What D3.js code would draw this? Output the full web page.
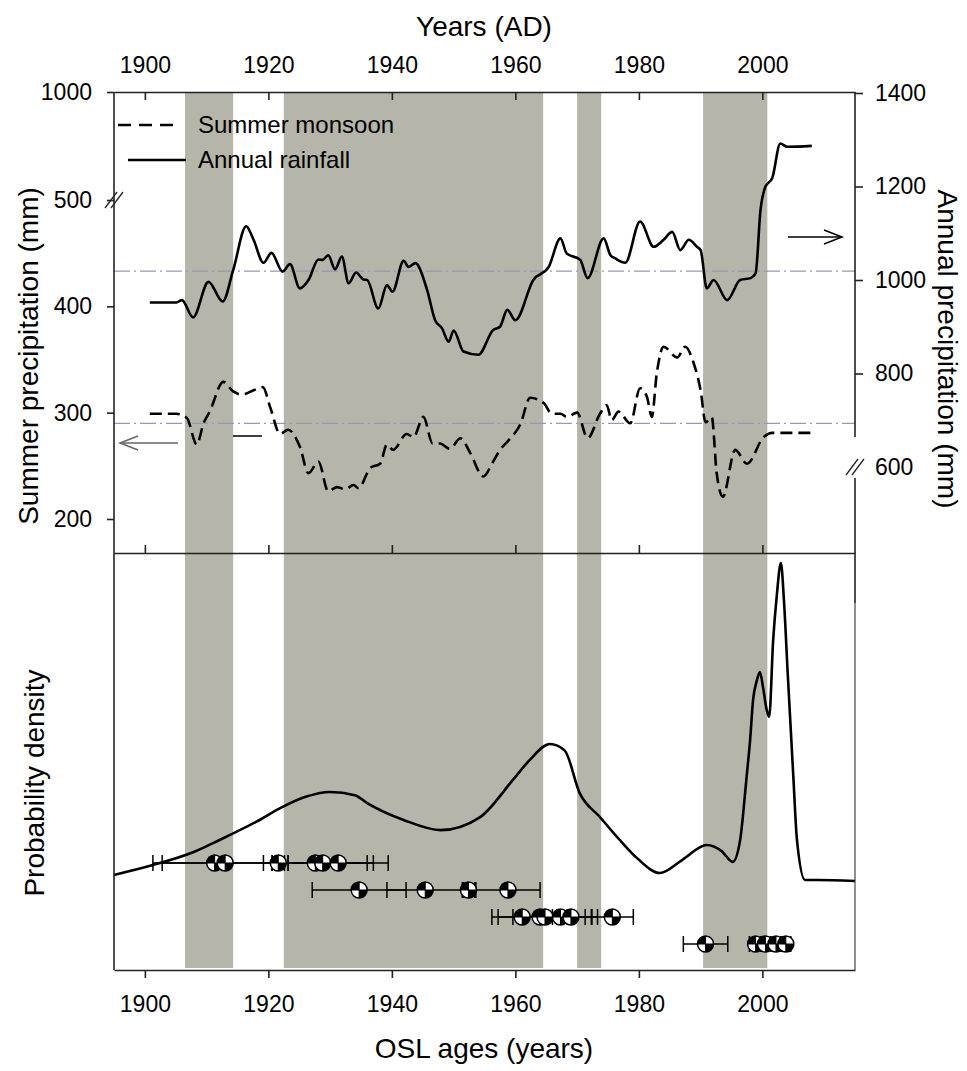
<!DOCTYPE html>
<html>
<head>
<meta charset="utf-8">
<script src="https://cdn.jsdelivr.net/npm/d3@7"></script>
<style>
  body { margin: 0; background: #fff; }
  text { font-family: "Liberation Sans", Arial, sans-serif; fill: #000; }
  .axis path, .axis line { stroke: #222; stroke-width: 1.6; }
  .axis text { font-size: 23px; }
</style>
</head>
<body>
<svg id="chart"></svg>
<script>
// ---- data ----
var xTicks = [1900, 1920, 1940, 1960, 1980, 2000];
var summerTicks = [200, 300, 400, 500, 1000];
var annualTicks = [600, 800, 1000, 1200, 1400];

var bandStarts = [1906.5, 1922.5, 1970.0, 1990.4];
var bandEnds = [1914.3, 1964.5, 1973.9, 2000.8];

var annualYears = [1900.8, 1905.1, 1906, 1907.8, 1910.3, 1912.6, 1914.3, 1916.4, 1917.6, 1919.2, 1920.5, 1922.3, 1923.5, 1925.1, 1926.5, 1928.1, 1928.8, 1929.7, 1930.8, 1931.9, 1933.0, 1934.2, 1935.4, 1936.0, 1937.8, 1939.2, 1940.1, 1941.9, 1942.7, 1943.8, 1945.7, 1947.0, 1948.1, 1949.2, 1950.0, 1951.6, 1954.0, 1956.4, 1957.5, 1958.7, 1960.0, 1962.9, 1965.4, 1967.3, 1968.3, 1970.5, 1971.7, 1974.3, 1975.4, 1976.2, 1977.8, 1980.2, 1982.4, 1984.0, 1985.4, 1986.7, 1988.1, 1989.4, 1990.0, 1991.0, 1992.1, 1994.3, 1996.4, 1998.1, 1998.9, 1999.7, 2000.5, 2001.6, 2002.9, 2004.0, 2008.0];
var annualRain = [952, 952, 957, 920, 996, 954, 1021, 1115, 1086, 1037, 1058, 1018, 1034, 982, 1000, 1044, 1043, 1053, 1023, 1050, 993, 1016, 1001, 1000, 939, 989, 975, 1041, 1028, 1036, 979, 914, 897, 868, 892, 847, 840, 893, 900, 936, 914, 1000, 1028, 1089, 1057, 1043, 1004, 1089, 1053, 1046, 1037, 1125, 1071, 1086, 1103, 1064, 1086, 1071, 1064, 982, 1000, 957, 1000, 1004, 1014, 1150, 1200, 1218, 1292, 1285, 1287];

var summerYears = [1900.8, 1905.1, 1906.8, 1908.4, 1909.5, 1910.5, 1912.7, 1914.3, 1915.7, 1917.6, 1919.1, 1920.3, 1921.9, 1923.2, 1925.1, 1926.5, 1928.1, 1929.7, 1931.1, 1932.4, 1933.8, 1934.6, 1936.5, 1938.1, 1939.2, 1940.2, 1942.4, 1943.5, 1945.1, 1946.6, 1947.8, 1949.4, 1951.1, 1952.7, 1954.8, 1956.4, 1957.5, 1958.9, 1960.8, 1962.4, 1964.6, 1965.9, 1967.3, 1968.3, 1970.0, 1971.7, 1973.7, 1974.8, 1975.6, 1976.7, 1978.6, 1980.2, 1981.3, 1982.1, 1982.9, 1984.0, 1986.2, 1987.5, 1988.9, 1990.0, 1990.8, 1991.8, 1992.6, 1993.6, 1995.6, 1997.5, 2000.2, 2001.6, 2008.0];
var summerRain = [299, 299, 295, 270, 290, 301, 329, 320, 317, 321, 324, 305, 280, 284, 268, 243, 254, 226, 230, 228, 232, 229, 248, 252, 270, 265, 280, 277, 296, 271, 271, 266, 276, 262, 240, 254, 265, 274, 289, 314, 309, 299, 299, 296, 300, 276, 299, 307, 293, 301, 290, 323, 315, 296, 337, 362, 352, 362, 346, 321, 291, 296, 243, 221, 265, 252, 277, 281, 281];

var summerMean = 290;
var annualMean = 1019;

var densityYears = [1895, 1901.3, 1907.9, 1912.1, 1918, 1922.3, 1925.9, 1930, 1934, 1936, 1941.9, 1947.9, 1954.3, 1959.6, 1962.3, 1965.6, 1968, 1970.4, 1973.7, 1976.9, 1979.7, 1983.4, 1987, 1991, 1993.4, 1995.2, 1996.4, 1996.9, 1997.4, 1998, 1998.5, 1999.1, 1999.6, 2000.1, 2000.7, 2001.1, 2001.75, 2002.3, 2003, 2003.5, 2004.1, 2005, 2005.6, 2006.9, 2008.8, 2015];
var densityValues = [1.9, 5, 9.1, 12.9, 18.6, 23.3, 26.4, 28, 27, 24.5, 19.2, 16, 20.1, 31.8, 38, 43.1, 41, 27.7, 20.1, 12.9, 7.2, 2.5, 6.6, 11.3, 9.4, 6, 12.9, 21.4, 31.8, 44, 57, 63, 65.7, 61, 53.8, 51.6, 75.8, 89, 100, 88, 65.4, 33.3, 12.9, 0.3, 0.3, 0];

var oslAges = [1911.3, 1913.0, 1921.6, 1927.6, 1928.8, 1931.3,
               1934.7, 1945.4, 1952.4, 1958.8,
               1961.1, 1964.0, 1964.8, 1967.3, 1969.0, 1975.7,
               1990.8, 1998.9, 2000.5, 2002.2, 2003.8];
var oslErrors = [10, 10.2, 1.0, 8.4, 8.2, 8.1,
                 7.6, 6.2, 1.0, 5.2,
                 4.9, 4.4, 7.6, 6.0, 2.3, 3.4,
                 3.6, 1.0, 0.8, 0.8, 0.8];
var oslRows = [1, 1, 1, 1, 1, 1,
               2, 2, 2, 2,
               3, 3, 3, 3, 3, 3,
               4, 4, 4, 4, 4];

// ---- layout ----
var W = 967, H = 1071;
var left = 114, right = 855;
var top1 = 92, bot1 = 553, bot2 = 970;

var svg = d3.select("#chart").attr("width", W).attr("height", H);

var x = d3.scaleLinear().domain([1895, 2015]).range([left, right]);
var ySummer = d3.scaleLinear().domain([200, 500, 1000]).range([519, 200, top1]);
var yAnnual = d3.scaleLinear().domain([600, 1400]).range([467, top1 + 1]);
var yDens = d3.scaleLinear().domain([0, 100]).range([881, 563]);
var yRow = d3.scaleLinear().domain([1, 4]).range([863, 944]);

// shaded periods
svg.append("g").selectAll("rect")
    .data(bandStarts)
    .enter().append("rect")
    .attr("x", d => x(d))
    .attr("y", top1 + 1)
    .attr("width", (d, i) => x(bandEnds[i]) - x(d))
    .attr("height", 968 - top1 - 1)
    .attr("fill", "#b5b5a9");

// mean reference lines
[yAnnual(annualMean), ySummer(summerMean)].forEach(function(yy) {
    svg.append("line")
        .attr("x1", left).attr("x2", right)
        .attr("y1", yy).attr("y2", yy)
        .attr("stroke", "#9898b2").attr("stroke-width", 1.3)
        .attr("stroke-dasharray", "16,4,2,4");
});

// rainfall curves
var annualLine = d3.line()
    .x((d, i) => x(annualYears[i]))
    .y(d => yAnnual(d))
    .curve(d3.curveMonotoneX);
svg.append("path")
    .attr("d", annualLine(annualRain))
    .attr("fill", "none").attr("stroke", "#000").attr("stroke-width", 2.6);

var summerLine = d3.line()
    .x((d, i) => x(summerYears[i]))
    .y(d => ySummer(d))
    .curve(d3.curveMonotoneX);
svg.append("path")
    .attr("d", summerLine(summerRain))
    .attr("fill", "none").attr("stroke", "#000").attr("stroke-width", 2.6)
    .attr("stroke-dasharray", "12,6");

// density curve
var densLine = d3.line()
    .x((d, i) => x(densityYears[i]))
    .y(d => yDens(d))
    .curve(d3.curveMonotoneX);
svg.append("path")
    .attr("d", densLine(densityValues))
    .attr("fill", "none").attr("stroke", "#000").attr("stroke-width", 2.6);

// OSL ages with error bars
var osl = svg.append("g");
oslAges.forEach(function(a, i) {
    var y0 = yRow(oslRows[i]);
    var x1 = x(a - oslErrors[i]), x2 = x(a + oslErrors[i]);
    osl.append("line").attr("x1", x1).attr("x2", x2).attr("y1", y0).attr("y2", y0)
        .attr("stroke", "#000").attr("stroke-width", 1.3);
    [x1, x2].forEach(function(xc) {
        osl.append("line").attr("x1", xc).attr("x2", xc).attr("y1", y0 - 8).attr("y2", y0 + 8)
            .attr("stroke", "#000").attr("stroke-width", 1.5);
    });
});
var r = 8;
var quarter = d3.arc().innerRadius(0).outerRadius(r);
oslAges.forEach(function(a, i) {
    var m = osl.append("g").attr("transform", `translate(${x(a)},${yRow(oslRows[i])})`);
    m.append("circle").attr("r", r).attr("fill", "#fff").attr("stroke", "#000").attr("stroke-width", 1.5);
    m.append("path").attr("d", quarter({ startAngle: -Math.PI / 2, endAngle: 0 })).attr("fill", "#000");
    m.append("path").attr("d", quarter({ startAngle: Math.PI / 2, endAngle: Math.PI })).attr("fill", "#000");
    m.append("line").attr("x1", 0).attr("x2", 0).attr("y1", -r).attr("y2", r).attr("stroke", "#000").attr("stroke-width", 1);
    m.append("line").attr("x1", -r).attr("x2", r).attr("y1", 0).attr("y2", 0).attr("stroke", "#000").attr("stroke-width", 1);
});

// ---- axes ----
svg.append("g")
    .attr("class", "axis")
    .attr("transform", `translate(0,${top1})`)
    .call(d3.axisTop(x).tickValues(xTicks).tickFormat(d3.format("d")).tickSizeInner(-8).tickSizeOuter(0).tickPadding(19));

svg.append("g")
    .attr("class", "axis")
    .attr("transform", `translate(0,${bot1})`)
    .call(d3.axisBottom(x).tickValues(xTicks).tickFormat("").tickSizeInner(-8).tickSizeOuter(0));

svg.append("g")
    .attr("class", "axis")
    .attr("transform", `translate(0,${bot2})`)
    .call(d3.axisBottom(x).tickValues(xTicks).tickFormat(d3.format("d")).tickSizeInner(8).tickSizeOuter(0).tickPadding(18));

var leftAxis = svg.append("g")
    .attr("class", "axis")
    .attr("transform", `translate(${left},0)`)
    .call(d3.axisLeft(ySummer).tickValues(summerTicks).tickFormat(d3.format("d")).tickSize(7).tickPadding(15));
leftAxis.select(".domain").remove();
svg.append("line").attr("x1", left).attr("x2", left).attr("y1", top1).attr("y2", bot2)
    .attr("stroke", "#222").attr("stroke-width", 1.6);

var rightAxis = svg.append("g")
    .attr("class", "axis")
    .attr("transform", `translate(${right},0)`)
    .call(d3.axisRight(yAnnual).tickValues(annualTicks).tickFormat(d3.format("d")).tickSize(8).tickPadding(12));
rightAxis.select(".domain").remove();
rightAxis.selectAll(".tick line").filter(d => d === 600).remove();
svg.append("line").attr("x1", right).attr("x2", right).attr("y1", top1).attr("y2", 437)
    .attr("stroke", "#222").attr("stroke-width", 1.6);
svg.append("line").attr("x1", right).attr("x2", right).attr("y1", 478).attr("y2", 603)
    .attr("stroke", "#222").attr("stroke-width", 1.6);
svg.append("line").attr("x1", right).attr("x2", right).attr("y1", 603).attr("y2", bot2)
    .attr("stroke", "#222").attr("stroke-width", 1);

// axis breaks
function breakMark(cx, cy) {
    [-3, 3].forEach(function(o) {
        svg.append("line")
            .attr("x1", cx + o - 6).attr("y1", cy + 8)
            .attr("x2", cx + o + 6).attr("y2", cy - 8)
            .attr("stroke", "#222").attr("stroke-width", 1.3);
    });
}
breakMark(left, ySummer(500));
breakMark(right, yAnnual(600));

// arrows
function arrow(x1, x2, y, color) {
    var dir = x2 > x1 ? -1 : 1;
    svg.append("line").attr("x1", x1).attr("x2", x2).attr("y1", y).attr("y2", y)
        .attr("stroke", color).attr("stroke-width", 1.5);
    svg.append("polyline")
        .attr("points", `${x2 + dir * 18},${y - 7} ${x2},${y} ${x2 + dir * 18},${y + 7}`)
        .attr("fill", "none").attr("stroke", color).attr("stroke-width", 1.5);
}
arrow(178, 120, 443, "#666");
arrow(788, 842, 237, "#000");
svg.append("line").attr("x1", 233).attr("x2", 262).attr("y1", 436).attr("y2", 436)
    .attr("stroke", "#000").attr("stroke-width", 1.5);

// legend
var legend = svg.append("g");
legend.append("line").attr("x1", 118).attr("x2", 176).attr("y1", 125).attr("y2", 125)
    .attr("stroke", "#000").attr("stroke-width", 2.6).attr("stroke-dasharray", "13,8");
legend.append("text").attr("x", 198).attr("y", 133).style("font-size", "24px").text("Summer monsoon");
legend.append("line").attr("x1", 128).attr("x2", 186).attr("y1", 160).attr("y2", 160)
    .attr("stroke", "#000").attr("stroke-width", 2.6);
legend.append("text").attr("x", 198).attr("y", 168).style("font-size", "24px").text("Annual rainfall");

// titles
svg.append("text").attr("x", 484).attr("y", 36).attr("text-anchor", "middle")
    .style("font-size", "28px").text("Years (AD)");
svg.append("text").attr("x", 484).attr("y", 1058).attr("text-anchor", "middle")
    .style("font-size", "28px").text("OSL ages (years)");
svg.append("text").attr("transform", "translate(28,356) rotate(-90)").attr("text-anchor", "middle")
    .attr("dy", "0.35em").style("font-size", "28px").text("Summer precipitation (mm)");
svg.append("text").attr("transform", "translate(34,783) rotate(-90)").attr("text-anchor", "middle")
    .attr("dy", "0.35em").style("font-size", "28px").text("Probability density");
svg.append("text").attr("transform", "translate(948,349) rotate(90)").attr("text-anchor", "middle")
    .attr("dy", "0.35em").style("font-size", "28px").text("Annual precipitation (mm)");
</script>
</body>
</html>
